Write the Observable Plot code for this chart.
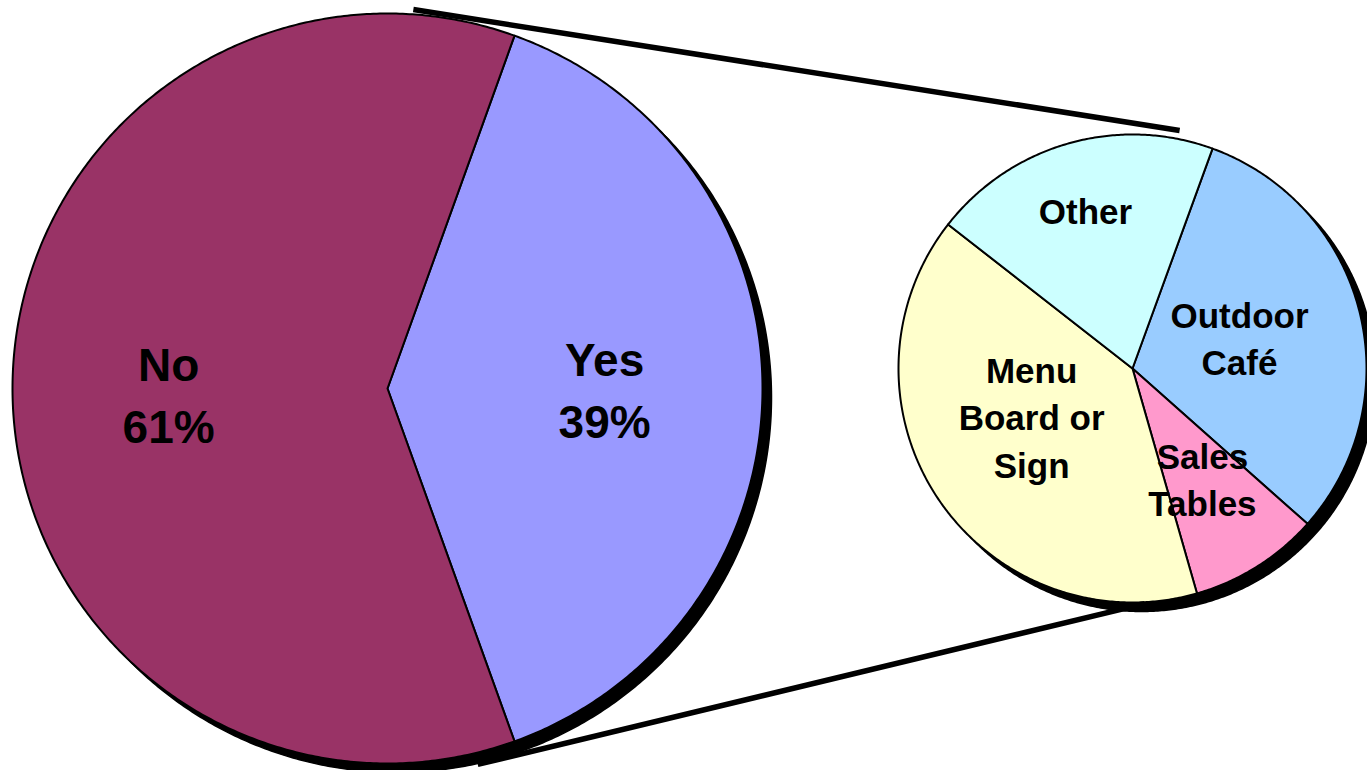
<!DOCTYPE html>
<html>
<head>
<meta charset="utf-8">
<script src="https://cdn.jsdelivr.net/npm/d3@7"></script>
<script src="https://cdn.jsdelivr.net/npm/@observablehq/plot@0.6"></script>
<style>
  html, body { margin: 0; padding: 0; background: #ffffff; overflow: hidden; }
  #chart svg { display: block; }
</style>
</head>
<body>
<div id="chart"></div>
<script>
// ---- data ----
const mainCategories = ["Yes", "No"];
const mainValues = [39, 61];
const mainLabels = ["Yes\n39%", "No\n61%"];
const mainColors = ["#9999FF", "#993366"];

const subCategories = ["Outdoor Café", "Sales Tables", "Menu Board or Sign", "Other"];
const subValues = [31, 9, 40, 20];
const subLabels = ["Outdoor\nCafé", "Sales\nTables", "Menu\nBoard or\nSign", "Other"];
const subColors = ["#99CCFF", "#FF99CC", "#FFFFCC", "#CCFFFF"];

// ---- layout ----
const W = 1367, H = 770;
const big = {cx: 387, cy: 388, r: 375};
const small = {cx: 1132, cy: 368, r: 234};
const shadow = 9;
const bigStart = 19.8;   // degrees clockwise from 12 o'clock
const smallStart = 20;
// label placement: [angle deg, radius fraction]
const mainLabelPolar = [[90.5, 0.579], [268.2, 0.584]];
const subLabelPolar = [[74.8, 0.474], [148, 0.564], [243.9, 0.48], [343.3, 0.70]];
// connectors: [angle, radius fraction] on big pie -> on small pie
const connectorPolar = [
  [[3.9, 1.013], [11.2, 1.037]],
  [[166.5, 1.031], [177, 1.006]]
];

function pt(c, deg, rr) {
  const a = deg * Math.PI / 180;
  return {x: c.cx + rr * Math.sin(a), y: c.cy - rr * Math.cos(a)};
}
function wedge(c, a0, a1) {
  const pts = [{x: c.cx, y: c.cy}];
  const n = Math.max(2, Math.ceil((a1 - a0) / 0.5));
  for (let i = 0; i <= n; i++) pts.push(pt(c, a0 + (a1 - a0) * i / n, c.r));
  return pts;
}
function circle(c, dx, dy) {
  const pts = [];
  for (let i = 0; i < 720; i++) {
    const p = pt(c, i / 2, c.r);
    pts.push({x: p.x + dx, y: p.y + dy});
  }
  return pts;
}
function pieArcs(values, startDeg) {
  const s = startDeg * Math.PI / 180;
  return d3.pie().sort(null).startAngle(s).endAngle(s + 2 * Math.PI)(values)
    .map(a => [a.startAngle * 180 / Math.PI, a.endAngle * 180 / Math.PI]);
}

const mainArcs = pieArcs(mainValues, bigStart);
const subArcs = pieArcs(subValues, smallStart);

const wedgeMarks = [];
mainArcs.forEach((a, i) => {
  wedgeMarks.push(Plot.line(wedge(big, a[0], a[1]), {
    x: "x", y: "y", fill: mainColors[i], stroke: "black", strokeWidth: 2,
    strokeLinejoin: "round", curve: "linear-closed"
  }));
});
subArcs.forEach((a, i) => {
  wedgeMarks.push(Plot.line(wedge(small, a[0], a[1]), {
    x: "x", y: "y", fill: subColors[i], stroke: "black", strokeWidth: 2,
    strokeLinejoin: "round", curve: "linear-closed"
  }));
});

const labelRows = [
  ...mainCategories.map((c, i) => {
    const p = pt(big, mainLabelPolar[i][0], mainLabelPolar[i][1] * big.r);
    return {text: mainLabels[i], x: p.x, y: p.y, size: 46};
  }),
  ...subCategories.map((c, i) => {
    const p = pt(small, subLabelPolar[i][0], subLabelPolar[i][1] * small.r);
    return {text: subLabels[i], x: p.x, y: p.y, size: 35};
  })
];

const links = connectorPolar.map(([a, b]) => {
  const p = pt(big, a[0], a[1] * big.r);
  const q = pt(small, b[0], b[1] * small.r);
  return {x1: p.x, y1: p.y, x2: q.x, y2: q.y};
});

const chart = Plot.plot({
  width: W,
  height: H,
  margin: 0,
  style: {background: "white", fontFamily: "'Liberation Sans', Arial, sans-serif"},
  x: {domain: [0, W], range: [0, W], axis: null},
  y: {domain: [0, H], range: [0, H], axis: null},
  marks: [
    Plot.line(circle(big, shadow, shadow), {x: "x", y: "y", fill: "black", stroke: "black", curve: "linear-closed"}),
    Plot.line(circle(small, shadow, shadow), {x: "x", y: "y", fill: "black", stroke: "black", curve: "linear-closed"}),
    ...wedgeMarks,
    Plot.link(links, {x1: "x1", y1: "y1", x2: "x2", y2: "y2", stroke: "black", strokeWidth: 5.5, strokeLinecap: "butt"}),
    Plot.text(labelRows.filter(d => d.size === 46), {
      x: "x", y: "y", text: "text", fontSize: 46, fontWeight: "bold", fill: "black",
      lineAnchor: "middle", lineHeight: 1.33, textAnchor: "middle", dy: -3
    }),
    Plot.text(labelRows.filter(d => d.size === 35), {
      x: "x", y: "y", text: "text", fontSize: 35, fontWeight: "bold", fill: "black",
      lineAnchor: "middle", lineHeight: 1.36, textAnchor: "middle", dy: -3
    })
  ]
});
document.getElementById("chart").appendChild(chart);
</script>
</body>
</html>
